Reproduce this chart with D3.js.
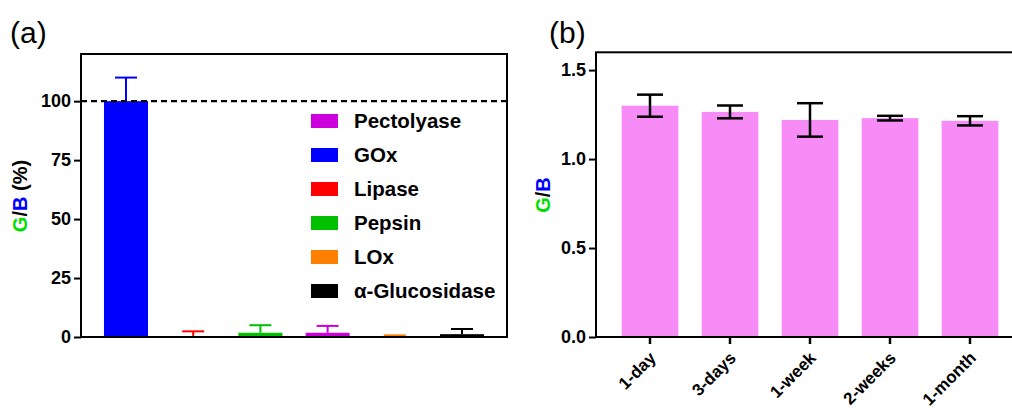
<!DOCTYPE html>
<html>
<head>
<meta charset="utf-8">
<script src="https://cdn.jsdelivr.net/npm/d3@7"></script>
<style>
  body { margin: 0; background: #fff; }
  svg { display: block; font-family: Arial, "Liberation Sans", sans-serif; }
  .tick text { font-weight: bold; }
</style>
</head>
<body>
<svg id="chart" width="1012" height="412"></svg>
<script>
// ---- panel (a) data : selectivity against other enzymes
var enzymes       = ["GOx", "Lipase", "Pepsin", "Pectolyase", "LOx", "α-Glucosidase"];
var enzymeValues  = [100, 0, 1.8, 1.8, 0.3, 1.2];
var enzymeErrors  = [10, 2.4, 3.2, 2.9, 0.4, 2.2];
var enzymeColors  = ["#0000ff", "#ff0000", "#00c000", "#cc00dd", "#ff8000", "#000000"];
var legendOrder   = ["Pectolyase", "GOx", "Lipase", "Pepsin", "LOx", "α-Glucosidase"];
var aTicks        = [0, 25, 50, 75, 100];

// ---- panel (b) data : storage stability
var periods       = ["1-day", "3-days", "1-week", "2-weeks", "1-month"];
var ratios        = [1.30, 1.265, 1.22, 1.23, 1.215];
var ratioErrors   = [0.062, 0.036, 0.094, 0.013, 0.026];
var bTicks        = [0, 0.5, 1.0, 1.5];

var svg = d3.select("#chart");

// draws the "G/B" label with its coloured letters
function gbLabel(g, x, y, withPct) {
  var t = g.append("text")
    .attr("transform", "translate(" + x + "," + y + ") rotate(-90)")
    .attr("text-anchor", "middle")
    .attr("font-weight", "bold")
    .attr("font-size", 20);
  t.append("tspan").attr("fill", "#00dd00").text("G");
  t.append("tspan").attr("fill", "#000").text("/");
  t.append("tspan").attr("fill", "#0000ff").text("B");
  if (withPct) t.append("tspan").attr("fill", "#000").text(" (%)");
}

// ================= panel (a) =================
var a = svg.append("g");
var ax = d3.scaleBand().domain(enzymes).range([81, 507]).paddingInner(0.345).paddingOuter(0.342);
var ay = d3.scaleLinear().domain([0, 120]).range([337, 54]);

a.append("text").attr("x", 10).attr("y", 43).attr("font-size", 30).text("(a)");

// bars
a.selectAll("rect.bar").data(enzymes).enter().append("rect")
  .attr("class", "bar")
  .attr("x", function(d){ return ax(d); })
  .attr("width", ax.bandwidth())
  .attr("y", function(d, i){ return ay(enzymeValues[i]); })
  .attr("height", function(d, i){ return ay(0) - ay(enzymeValues[i]); })
  .attr("fill", function(d, i){ return enzymeColors[i]; });

// upper error bars only
var aErr = a.selectAll("g.err").data(enzymes).enter().append("g")
  .attr("stroke", function(d, i){ return enzymeColors[i]; })
  .attr("stroke-width", 2);
aErr.append("line")
  .attr("x1", function(d){ return ax(d) + ax.bandwidth() / 2; })
  .attr("x2", function(d){ return ax(d) + ax.bandwidth() / 2; })
  .attr("y1", function(d, i){ return ay(enzymeValues[i]); })
  .attr("y2", function(d, i){ return ay(enzymeValues[i] + enzymeErrors[i]); });
aErr.append("line")
  .attr("x1", function(d){ return ax(d) + ax.bandwidth() / 2 - 11; })
  .attr("x2", function(d){ return ax(d) + ax.bandwidth() / 2 + 11; })
  .attr("y1", function(d, i){ return ay(enzymeValues[i] + enzymeErrors[i]); })
  .attr("y2", function(d, i){ return ay(enzymeValues[i] + enzymeErrors[i]); });

// dashed reference line at 100 %
a.append("line")
  .attr("x1", 81).attr("x2", 507)
  .attr("y1", ay(100)).attr("y2", ay(100))
  .attr("stroke", "#000").attr("stroke-width", 2.2)
  .attr("stroke-dasharray", "6,4");

// frame
a.append("rect").attr("x", 81).attr("y", 54).attr("width", 426).attr("height", 283)
  .attr("fill", "none").attr("stroke", "#000").attr("stroke-width", 2);

// y axis
var ayAxis = a.append("g").attr("transform", "translate(81,0)")
  .call(d3.axisLeft(ay).tickValues(aTicks).tickSize(7).tickPadding(3));
ayAxis.select(".domain").remove();
ayAxis.selectAll(".tick line").attr("stroke-width", 2);
ayAxis.selectAll(".tick text").attr("font-size", 18).attr("fill", "#000");

gbLabel(a, 27, 196, true);

// legend
var leg = a.selectAll("g.leg").data(legendOrder).enter().append("g")
  .attr("transform", function(d, i){ return "translate(311," + (121 + i * 34) + ")"; });
leg.append("rect").attr("x", 0).attr("y", -7).attr("width", 27).attr("height", 14)
  .attr("fill", function(d){ return enzymeColors[enzymes.indexOf(d)]; });
leg.append("text").attr("x", 43).attr("y", 7)
  .attr("font-size", 20.5).attr("font-weight", "bold")
  .text(function(d){ return d; });

// ================= panel (b) =================
var b = svg.append("g");
var bx = d3.scaleBand().domain(periods).range([596, 1024]).paddingInner(0.29).paddingOuter(0.32);
var by = d3.scaleLinear().domain([0, 1.6]).range([337, 52.3]);

b.append("text").attr("x", 549).attr("y", 43).attr("font-size", 30).text("(b)");

b.selectAll("rect.bar").data(periods).enter().append("rect")
  .attr("class", "bar")
  .attr("x", function(d){ return bx(d); })
  .attr("width", bx.bandwidth())
  .attr("y", function(d, i){ return by(ratios[i]); })
  .attr("height", function(d, i){ return by(0) - by(ratios[i]); })
  .attr("fill", "#f78cf7");

var bErr = b.selectAll("g.err").data(periods).enter().append("g")
  .attr("stroke", "#000").attr("stroke-width", 2.5);
bErr.append("line")
  .attr("x1", function(d){ return bx(d) + bx.bandwidth() / 2; })
  .attr("x2", function(d){ return bx(d) + bx.bandwidth() / 2; })
  .attr("y1", function(d, i){ return by(ratios[i] - ratioErrors[i]); })
  .attr("y2", function(d, i){ return by(ratios[i] + ratioErrors[i]); });
[1, -1].forEach(function(s){
  bErr.append("line")
    .attr("x1", function(d){ return bx(d) + bx.bandwidth() / 2 - 13; })
    .attr("x2", function(d){ return bx(d) + bx.bandwidth() / 2 + 13; })
    .attr("y1", function(d, i){ return by(ratios[i] + s * ratioErrors[i]); })
    .attr("y2", function(d, i){ return by(ratios[i] + s * ratioErrors[i]); });
});

// frame (right side runs off the picture)
b.append("rect").attr("x", 596).attr("y", 52.3).attr("width", 428).attr("height", 284.7)
  .attr("fill", "none").attr("stroke", "#000").attr("stroke-width", 2);

var byAxis = b.append("g").attr("transform", "translate(596,0)")
  .call(d3.axisLeft(by).tickValues(bTicks).tickFormat(d3.format(".1f")).tickSize(7).tickPadding(3));
byAxis.select(".domain").remove();
byAxis.selectAll(".tick line").attr("stroke-width", 2);
byAxis.selectAll(".tick text").attr("font-size", 18).attr("fill", "#000");

var bxAxis = b.append("g").attr("transform", "translate(0,337)")
  .call(d3.axisBottom(bx).tickSize(7).tickPadding(3));
bxAxis.select(".domain").remove();
bxAxis.selectAll(".tick line").attr("stroke-width", 2.5);
bxAxis.selectAll(".tick text")
  .attr("font-size", 17).attr("fill", "#000")
  .attr("text-anchor", "end")
  .attr("x", 0).attr("y", 0).attr("dy", "0")
  .attr("transform", "translate(7,22) rotate(-45)");

gbLabel(b, 550, 195, false);
</script>
</body>
</html>
